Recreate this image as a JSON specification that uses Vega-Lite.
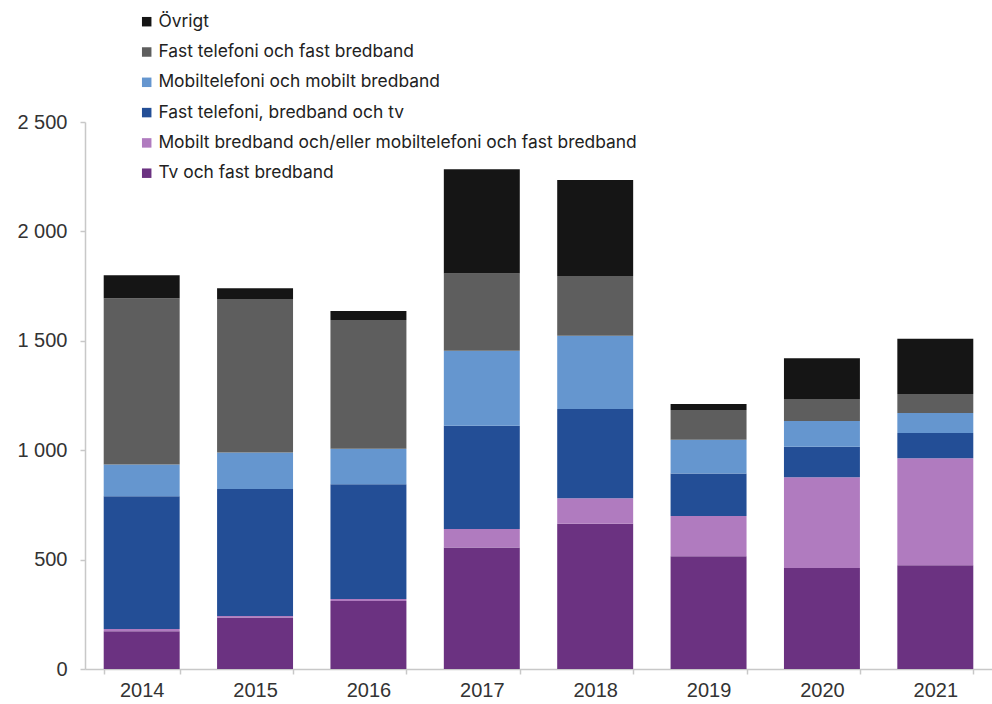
{
  "$schema": "https://vega.github.io/schema/vega-lite/v6.json",
  "width": 907,
  "height": 547,
  "autosize": {"type": "none"},
  "padding": {"left": 85, "top": 122, "right": 0, "bottom": 35},
  "background": "white",
  "config": {"view": {"stroke": null}, "font": "Liberation Sans"},
  "data": {"values": [
    {"year": "2014", "cat": "Tv och fast bredband", "value": 172},
    {"year": "2014", "cat": "Mobilt bredband och/eller mobiltelefoni och fast bredband", "value": 11},
    {"year": "2014", "cat": "Fast telefoni, bredband och tv", "value": 607},
    {"year": "2014", "cat": "Mobiltelefoni och mobilt bredband", "value": 145},
    {"year": "2014", "cat": "Fast telefoni och fast bredband", "value": 760},
    {"year": "2014", "cat": "Övrigt", "value": 105},
    {"year": "2015", "cat": "Tv och fast bredband", "value": 235},
    {"year": "2015", "cat": "Mobilt bredband och/eller mobiltelefoni och fast bredband", "value": 7},
    {"year": "2015", "cat": "Fast telefoni, bredband och tv", "value": 581},
    {"year": "2015", "cat": "Mobiltelefoni och mobilt bredband", "value": 167},
    {"year": "2015", "cat": "Fast telefoni och fast bredband", "value": 701},
    {"year": "2015", "cat": "Övrigt", "value": 49},
    {"year": "2016", "cat": "Tv och fast bredband", "value": 311},
    {"year": "2016", "cat": "Mobilt bredband och/eller mobiltelefoni och fast bredband", "value": 9},
    {"year": "2016", "cat": "Fast telefoni, bredband och tv", "value": 524},
    {"year": "2016", "cat": "Mobiltelefoni och mobilt bredband", "value": 163},
    {"year": "2016", "cat": "Fast telefoni och fast bredband", "value": 588},
    {"year": "2016", "cat": "Övrigt", "value": 41},
    {"year": "2017", "cat": "Tv och fast bredband", "value": 555},
    {"year": "2017", "cat": "Mobilt bredband och/eller mobiltelefoni och fast bredband", "value": 85},
    {"year": "2017", "cat": "Fast telefoni, bredband och tv", "value": 472},
    {"year": "2017", "cat": "Mobiltelefoni och mobilt bredband", "value": 343},
    {"year": "2017", "cat": "Fast telefoni och fast bredband", "value": 353},
    {"year": "2017", "cat": "Övrigt", "value": 476},
    {"year": "2018", "cat": "Tv och fast bredband", "value": 664},
    {"year": "2018", "cat": "Mobilt bredband och/eller mobiltelefoni och fast bredband", "value": 116},
    {"year": "2018", "cat": "Fast telefoni, bredband och tv", "value": 408},
    {"year": "2018", "cat": "Mobiltelefoni och mobilt bredband", "value": 335},
    {"year": "2018", "cat": "Fast telefoni och fast bredband", "value": 273},
    {"year": "2018", "cat": "Övrigt", "value": 439},
    {"year": "2019", "cat": "Tv och fast bredband", "value": 515},
    {"year": "2019", "cat": "Mobilt bredband och/eller mobiltelefoni och fast bredband", "value": 184},
    {"year": "2019", "cat": "Fast telefoni, bredband och tv", "value": 195},
    {"year": "2019", "cat": "Mobiltelefoni och mobilt bredband", "value": 154},
    {"year": "2019", "cat": "Fast telefoni och fast bredband", "value": 136},
    {"year": "2019", "cat": "Övrigt", "value": 27},
    {"year": "2020", "cat": "Tv och fast bredband", "value": 462},
    {"year": "2020", "cat": "Mobilt bredband och/eller mobiltelefoni och fast bredband", "value": 414},
    {"year": "2020", "cat": "Fast telefoni, bredband och tv", "value": 140},
    {"year": "2020", "cat": "Mobiltelefoni och mobilt bredband", "value": 117},
    {"year": "2020", "cat": "Fast telefoni och fast bredband", "value": 101},
    {"year": "2020", "cat": "Övrigt", "value": 186},
    {"year": "2021", "cat": "Tv och fast bredband", "value": 474},
    {"year": "2021", "cat": "Mobilt bredband och/eller mobiltelefoni och fast bredband", "value": 489},
    {"year": "2021", "cat": "Fast telefoni, bredband och tv", "value": 116},
    {"year": "2021", "cat": "Mobiltelefoni och mobilt bredband", "value": 91},
    {"year": "2021", "cat": "Fast telefoni och fast bredband", "value": 87},
    {"year": "2021", "cat": "Övrigt", "value": 252}
  ]},
  "transform": [
    {"calculate": "indexof(['Tv och fast bredband', 'Mobilt bredband och/eller mobiltelefoni och fast bredband', 'Fast telefoni, bredband och tv', 'Mobiltelefoni och mobilt bredband', 'Fast telefoni och fast bredband', 'Övrigt'], datum.cat)", "as": "o"}
  ],
  "mark": {"type": "bar"},
  "encoding": {
    "x": {
      "field": "year", "type": "nominal",
      "scale": {"paddingInner": 0.33, "paddingOuter": 0.165},
      "axis": {"title": null, "labelAngle": 0, "tickBand": "extent", "domainColor": "#c8c8c8", "tickColor": "#c8c8c8", "tickSize": 5, "labelFontSize": 20, "labelColor": "#333333", "labelPadding": 6, "domainWidth": 1.5, "tickWidth": 1.5}
    },
    "y": {
      "field": "value", "type": "quantitative", "stack": "zero",
      "scale": {"domain": [0, 2500], "nice": false},
      "axis": {"title": null, "values": [0, 500, 1000, 1500, 2000, 2500], "grid": false, "labelExpr": "replace(format(datum.value, ','), ',', ' ')", "domainColor": "#c8c8c8", "tickColor": "#c8c8c8", "tickSize": 5, "labelFontSize": 20, "labelColor": "#333333", "labelPadding": 13, "domainWidth": 1.5, "tickWidth": 1.5}
    },
    "color": {
      "field": "cat", "type": "nominal",
      "scale": {
        "domain": ["Övrigt", "Fast telefoni och fast bredband", "Mobiltelefoni och mobilt bredband", "Fast telefoni, bredband och tv", "Mobilt bredband och/eller mobiltelefoni och fast bredband", "Tv och fast bredband"],
        "range": ["#151515", "#5e5e5e", "#6596cf", "#234e96", "#b07bbf", "#6b3281"]
      },
      "legend": {"title": null, "orient": "none", "legendX": 53, "legendY": -109, "symbolType": "square", "symbolSize": 90, "symbolStrokeWidth": 0, "labelFont": "Inter", "labelFontSize": 17.4, "labelColor": "#222222", "labelOffset": 3, "rowPadding": 11.3, "labelLimit": 600}
    },
    "order": {"field": "o", "type": "quantitative", "sort": "ascending"}
  }
}
